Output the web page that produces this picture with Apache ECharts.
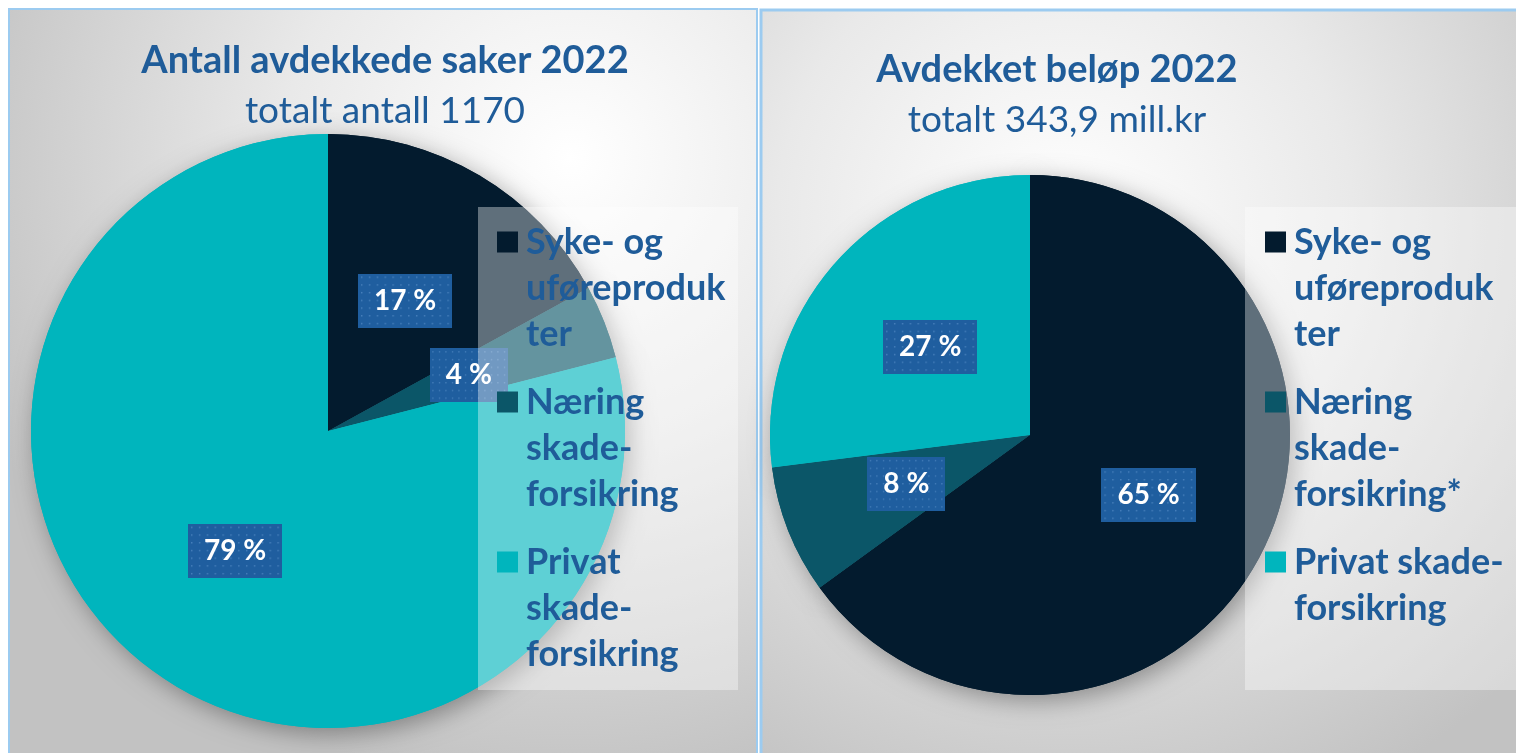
<!DOCTYPE html>
<html>
<head>
<meta charset="utf-8">
<title>Avdekkede saker 2022</title>
<script src="https://cdn.jsdelivr.net/npm/echarts@6/dist/echarts.min.js"></script>
<style>
  html, body { margin: 0; padding: 0; background: #fff; }
  #main { width: 1516px; height: 753px; }
</style>
</head>
<body>
<div id="main"></div>
<script>
var categories = ['Syke- og uføreprodukter', 'Næring skadeforsikring', 'Privat skadeforsikring'];
var casesShare = [17, 4, 79];   // antall saker, %
var amountShare = [65, 8, 27];  // beløp, %
var casesLegend = ['Syke- og\nuføreproduk\nter', 'Næring\nskade-\nforsikring', 'Privat\nskade-\nforsikring'];
var amountLegend = ['Syke- og\nuføreproduk\nter', 'Næring\nskade-\nforsikring*', 'Privat skade-\nforsikring'];

var colors = ['#031b2e', '#0b5668', '#00b5bd'];
var blue = '#1f5c99';
var font = 'Lato';
var lineH = 46;

// dotted fill for the value boxes
var dots = document.createElement('canvas');
dots.width = 96; dots.height = 56;
var ctx = dots.getContext('2d');
ctx.fillStyle = '#1f5e9f';
ctx.fillRect(0, 0, 96, 56);
ctx.fillStyle = 'rgba(120,170,225,0.45)';
for (var dx = 3; dx < 96; dx += 8) {
  for (var dy = 3; dy < 56; dy += 8) ctx.fillRect(dx, dy, 1.5, 1.5);
}

function pieData(values) {
  return values.map(function (v, i) {
    return { name: categories[i], value: v, itemStyle: { color: colors[i] } };
  });
}

function legend(labels, left) {
  return {
    orient: 'vertical',
    left: left,
    top: 127,
    padding: 0,
    itemGap: -70,
    itemWidth: 21,
    itemHeight: 21,
    icon: 'rect',
    z: 20,
    selectedMode: false,
    itemStyle: { shadowBlur: 0, borderWidth: 0 },
    textStyle: { color: blue, fontFamily: font, fontWeight: 'bold', fontSize: 36, lineHeight: lineH, padding: [0, 0, 0, 3] },
    // text is centred on the icon: pad with empty lines so the first line sits next to it
    formatter: function (name) {
      var text = labels[categories.indexOf(name)];
      var n = text.split('\n').length;
      return '\n\n' + text + new Array(4 - n).join('\n');
    },
    data: categories
  };
}

var valueLabel = {
  position: 'inside',
  formatter: '{c} %',
  color: '#fff',
  fontFamily: font,
  fontWeight: 'bold',
  fontSize: 28,
  lineHeight: 32,
  backgroundColor: { image: dots },
  padding: [12, 16, 10, 16],
  shadowBlur: 8,
  shadowColor: 'rgba(0,0,0,0.45)',
  shadowOffsetX: 3,
  shadowOffsetY: 3
};

function pie(values, center, r) {
  return [
    { // soft shadow under the pie
      type: 'pie', center: center, radius: [0, r], startAngle: 90, silent: true, z: 1,
      data: pieData(values),
      itemStyle: { shadowBlur: 24, shadowColor: 'rgba(0,0,0,0.35)', shadowOffsetX: 5, shadowOffsetY: 6 },
      label: { show: false }, labelLine: { show: false }
    },
    {
      type: 'pie', center: center, radius: [0, r], startAngle: 90, silent: true, z: 2,
      data: pieData(values),
      label: valueLabel, labelLine: { show: false },
      emphasis: { disabled: true }
    }
  ];
}

function panelFill(cx, cy) {
  return new echarts.graphic.RadialGradient(cx, cy, 0.85, [
    { offset: 0, color: '#ffffff' },
    { offset: 0.45, color: '#e9e9e9' },
    { offset: 1, color: '#c2c2c2' }
  ]);
}

var chart = echarts.init(document.getElementById('main'));

var option = {
  animation: false,
  backgroundColor: '#fff',
  title: [
    {
      text: 'Antall avdekkede saker 2022', subtext: 'totalt antall 1170',
      left: 385, top: 42, textAlign: 'center', padding: 0, itemGap: 13,
      textStyle: { color: blue, fontFamily: font, fontWeight: 'bold', fontSize: 38 },
      subtextStyle: { color: blue, fontFamily: font, fontWeight: 'normal', fontSize: 37 }
    },
    {
      text: 'Avdekket beløp 2022', subtext: 'totalt 343,9 mill.kr',
      left: 1057, top: 51, textAlign: 'center', padding: 0, itemGap: 13,
      textStyle: { color: blue, fontFamily: font, fontWeight: 'bold', fontSize: 38 },
      subtextStyle: { color: blue, fontFamily: font, fontWeight: 'normal', fontSize: 37 }
    }
  ],
  legend: [legend(casesLegend, 497), legend(amountLegend, 1265)],
  graphic: [
    { type: 'rect', z: -10, shape: { x: 9, y: 9, width: 748, height: 750 },
      style: { fill: panelFill(0.75, 0.2), stroke: '#9ccbf0', lineWidth: 2 } },
    { type: 'rect', z: -10, shape: { x: 761, y: 10, width: 760, height: 750 },
      style: { fill: panelFill(0.4, 0.28), stroke: '#9ccbf0', lineWidth: 3 } },
    { type: 'rect', z: 10, silent: true, shape: { x: 478, y: 207, width: 260, height: 483 },
      style: { fill: 'rgba(255,255,255,0.37)' } },
    { type: 'rect', z: 10, silent: true, shape: { x: 1245, y: 207, width: 280, height: 483 },
      style: { fill: 'rgba(255,255,255,0.37)' } }
  ],
  series: pie(casesShare, [328, 431], 297).concat(pie(amountShare, [1030, 435], 260))
};

chart.setOption(option);
</script>
</body>
</html>
